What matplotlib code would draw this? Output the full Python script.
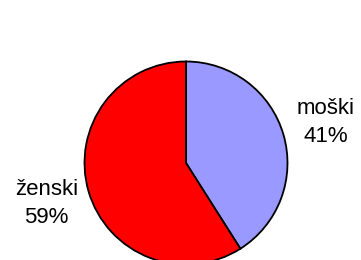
import matplotlib
matplotlib.use("Agg")
import matplotlib.pyplot as plt

categories = ["moški", "ženski"]
values = [41, 59]
colors = ["#9999FF", "#FF0000"]

plt.rcParams['font.family'] = ['Liberation Sans', 'DejaVu Sans']

fig = plt.figure(figsize=(3.61, 2.60), dpi=100)
ax = fig.add_axes([0, 0, 1, 1])
labels = [f"{c}\n{v}%" for c, v in zip(categories, values)]
wedges, texts = ax.pie(values, labels=labels, colors=colors, startangle=90,
                       counterclock=False, center=(186, 97), radius=101.5,
                       labeldistance=1.43, frame=True,
                       wedgeprops=dict(edgecolor="black", linewidth=1.3),
                       textprops=dict(fontsize=16, ha="center", va="center",
                                      linespacing=1.4))
for t in texts:
    t.set_ha("center")
ax.set_xlim(0, 361)
ax.set_ylim(0, 260)
ax.set_aspect("equal")
ax.axis("off")
fig.savefig("out.png", dpi=100)
